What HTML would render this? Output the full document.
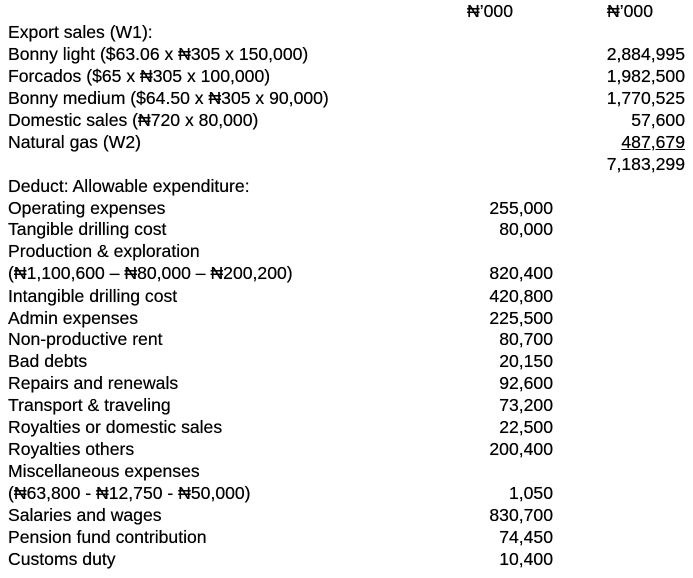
<!DOCTYPE html>
<html><head><meta charset="utf-8"><style>
html,body{margin:0;padding:0;background:#fff;}
body{width:693px;height:578px;position:relative;overflow:hidden;font-family:"Liberation Sans","DejaVu Sans",sans-serif;font-size:17.6px;color:#000;}
.r{position:absolute;left:0;width:693px;height:22px;line-height:22px;white-space:nowrap;text-shadow:0 0 0.4px #000;}
.l{position:absolute;left:8px;}
.m{position:absolute;right:140px;}
.x{position:absolute;right:8px;}
.u{text-decoration:underline;}
</style></head><body>
<div class="r" style="top:0px"><span class="m" style="right:180px">₦’000</span><span class="x" style="right:40px">₦’000</span></div>
<div class="r" style="top:21px"><span class="l">Export sales (W1):</span></div>
<div class="r" style="top:43px"><span class="l">Bonny light ($63.06 x ₦305 x 150,000)</span><span class="x">2,884,995</span></div>
<div class="r" style="top:65px"><span class="l">Forcados ($65 x ₦305 x 100,000)</span><span class="x">1,982,500</span></div>
<div class="r" style="top:87px"><span class="l">Bonny medium ($64.50 x ₦305 x 90,000)</span><span class="x">1,770,525</span></div>
<div class="r" style="top:109px"><span class="l">Domestic sales (₦720 x 80,000)</span><span class="x">57,600</span></div>
<div class="r" style="top:131px"><span class="l">Natural gas (W2)</span><span class="x u">487,679</span></div>
<div class="r" style="top:153px"><span class="x">7,183,299</span></div>
<div class="r" style="top:175px"><span class="l">Deduct: Allowable expenditure:</span></div>
<div class="r" style="top:197px"><span class="l">Operating expenses</span><span class="m">255,000</span></div>
<div class="r" style="top:218px"><span class="l">Tangible drilling cost</span><span class="m">80,000</span></div>
<div class="r" style="top:240px"><span class="l">Production &amp; exploration</span></div>
<div class="r" style="top:262px"><span class="l">(₦1,100,600 – ₦80,000 – ₦200,200)</span><span class="m">820,400</span></div>
<div class="r" style="top:285px"><span class="l">Intangible drilling cost</span><span class="m">420,800</span></div>
<div class="r" style="top:307px"><span class="l">Admin expenses</span><span class="m">225,500</span></div>
<div class="r" style="top:328px"><span class="l">Non-productive rent</span><span class="m">80,700</span></div>
<div class="r" style="top:350px"><span class="l">Bad debts</span><span class="m">20,150</span></div>
<div class="r" style="top:372px"><span class="l">Repairs and renewals</span><span class="m">92,600</span></div>
<div class="r" style="top:394px"><span class="l">Transport &amp; traveling</span><span class="m">73,200</span></div>
<div class="r" style="top:416px"><span class="l">Royalties or domestic sales</span><span class="m">22,500</span></div>
<div class="r" style="top:438px"><span class="l">Royalties others</span><span class="m">200,400</span></div>
<div class="r" style="top:460px"><span class="l">Miscellaneous expenses</span></div>
<div class="r" style="top:482px"><span class="l">(₦63,800 - ₦12,750 - ₦50,000)</span><span class="m">1,050</span></div>
<div class="r" style="top:504px"><span class="l">Salaries and wages</span><span class="m">830,700</span></div>
<div class="r" style="top:526px"><span class="l">Pension fund contribution</span><span class="m">74,450</span></div>
<div class="r" style="top:548px"><span class="l">Customs duty</span><span class="m">10,400</span></div>
</body></html>
